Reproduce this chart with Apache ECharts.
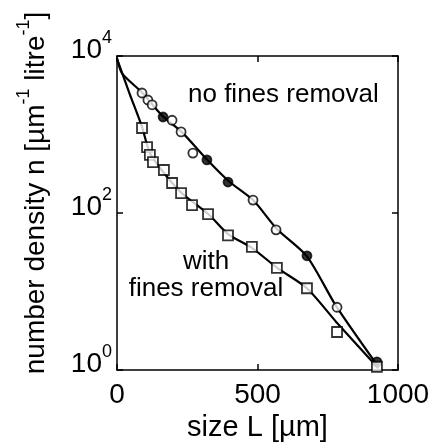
<!DOCTYPE html>
<html>
<head>
<meta charset="utf-8">
<script src="https://cdn.jsdelivr.net/npm/echarts@6/dist/echarts.min.js"></script>
<style>
  html, body { margin: 0; padding: 0; background: #fff; }
  #chart { width: 433px; height: 447px; }
</style>
</head>
<body>
<div id="chart"></div>
<script>
// Crystal size distribution: number density vs. size, with and without fines removal
var xTicks = [0, 500, 1000];
var yTickExponents = [0, 2, 4];

// measured points, no fines removal [size L in µm, n]
var noFinesOpen = [[89, 3380], [110, 2750], [125, 2390], [196, 1520], [228, 1080],
                   [270, 580], [484, 146], [566, 61], [783, 6.3]];
var noFinesSolid = [[164, 1670], [320, 475], [395, 248], [676, 28.5], [925, 1.27]];
// measured points, with fines removal
var withFines = [[89, 1210], [107, 690], [117, 550], [128, 445], [167, 353], [196, 241],
                 [228, 179], [267, 126], [324, 97], [395, 52], [480, 37], [569, 20],
                 [676, 11], [783, 3.05], [925, 1.1]];

// model curves
var noFinesFit = [[0, 9400], [18, 6000], [90, 3400], [160, 1750], [230, 1080], [320, 480],
                  [400, 250], [485, 145], [570, 62], [676, 28], [780, 6.5], [930, 1.1]];
var withFinesFit = [[0, 9200], [45, 3300], [89, 1250], [117, 580], [165, 330], [230, 180],
                    [325, 97], [395, 54], [480, 36], [570, 20], [676, 11], [780, 4.1], [930, 1.05]];

var FONT = 'Liberation Sans, Arial, sans-serif';
var chart = echarts.init(document.getElementById('chart'), null, { renderer: 'canvas' });

function frameAxis(extra) {
  return Object.assign({
    axisLine: { show: true, onZero: false, lineStyle: { color: '#000', width: 1.5 } },
    axisTick: { show: true, inside: true, length: 6, lineStyle: { color: '#000', width: 1.5 } },
    splitLine: { show: false }
  }, extra);
}

var supRich = {
  b: { fontFamily: FONT, fontSize: 28, lineHeight: 28, color: '#000', verticalAlign: 'bottom' },
  s: { fontFamily: FONT, fontSize: 18, lineHeight: 18, color: '#000', verticalAlign: 'bottom',
       padding: [0, 0, 17, 0] }
};

chart.setOption({
  animation: false,
  backgroundColor: '#fff',
  grid: { left: 117, right: 35, top: 56, bottom: 77, outerBoundsMode: 'none' },
  xAxis: [
    frameAxis({
      type: 'value', min: 0, max: 1000, interval: 500,
      name: 'size L [µm]', nameLocation: 'middle', nameGap: 39,
      nameTextStyle: { fontFamily: FONT, fontSize: 29, color: '#000' },
      axisLabel: { fontFamily: FONT, fontSize: 28, color: '#000', margin: 11,
        formatter: function (v) { return xTicks.indexOf(v) >= 0 ? String(v) : ''; } }
    }),
    frameAxis({ type: 'value', position: 'top', min: 0, max: 1000, interval: 500,
      axisLabel: { show: false } })
  ],
  yAxis: [
    frameAxis({
      type: 'log', logBase: 10, min: 1, max: 10000, interval: 2,
      axisLabel: {
        margin: 5,
        padding: [0, 0, 11, 0],
        formatter: function (v) {
          var e = Math.round(Math.log10(v));
          return yTickExponents.indexOf(e) >= 0 ? '{b|10}{s|' + e + '}' : '';
        },
        rich: supRich
      }
    }),
    frameAxis({ type: 'log', logBase: 10, min: 1, max: 10000, interval: 2, position: 'right',
      axisLabel: { show: false } })
  ],
  series: [
    { type: 'line', data: noFinesFit, showSymbol: false, smooth: 0.25,
      lineStyle: { color: '#000', width: 2.2 }, z: 2 },
    { type: 'line', data: withFinesFit, showSymbol: false, smooth: 0.25,
      lineStyle: { color: '#000', width: 2.2 }, z: 2 },
    { type: 'scatter', data: noFinesOpen, symbol: 'circle', symbolSize: 9,
      itemStyle: { color: '#fff', borderColor: '#000', borderWidth: 1.8 }, z: 3 },
    { type: 'scatter', data: noFinesSolid, symbol: 'circle', symbolSize: 9,
      itemStyle: { color: '#000', borderColor: '#000', borderWidth: 1.8 }, z: 3 },
    { type: 'scatter', data: withFines, symbol: 'rect', symbolSize: 10,
      itemStyle: { color: '#fff', borderColor: '#000', borderWidth: 1.8 }, z: 3 }
  ],
  graphic: [
    { type: 'text', x: 36, y: 193, rotation: Math.PI / 2,
      style: {
        text: '{t|number density n [µm}{s|-1}{t| litre}{s|-1}{t|]}',
        align: 'center', verticalAlign: 'middle',
        rich: {
          t: { fontFamily: FONT, fontSize: 28, lineHeight: 28, color: '#000', verticalAlign: 'bottom' },
          s: { fontFamily: FONT, fontSize: 18, lineHeight: 18, color: '#000', verticalAlign: 'bottom',
               padding: [0, 0, 17, 0] }
        }
      } },
    { type: 'text', x: 188, y: 95,
      style: { text: 'no fines removal', font: '26px ' + FONT, fill: '#000',
               align: 'left', verticalAlign: 'middle' } },
    { type: 'text', x: 206, y: 262,
      style: { text: 'with', font: '26px ' + FONT, fill: '#000',
               align: 'center', verticalAlign: 'middle' } },
    { type: 'text', x: 206, y: 289,
      style: { text: 'fines removal', font: '26px ' + FONT, fill: '#000',
               align: 'center', verticalAlign: 'middle' } }
  ]
});
</script>
</body>
</html>
